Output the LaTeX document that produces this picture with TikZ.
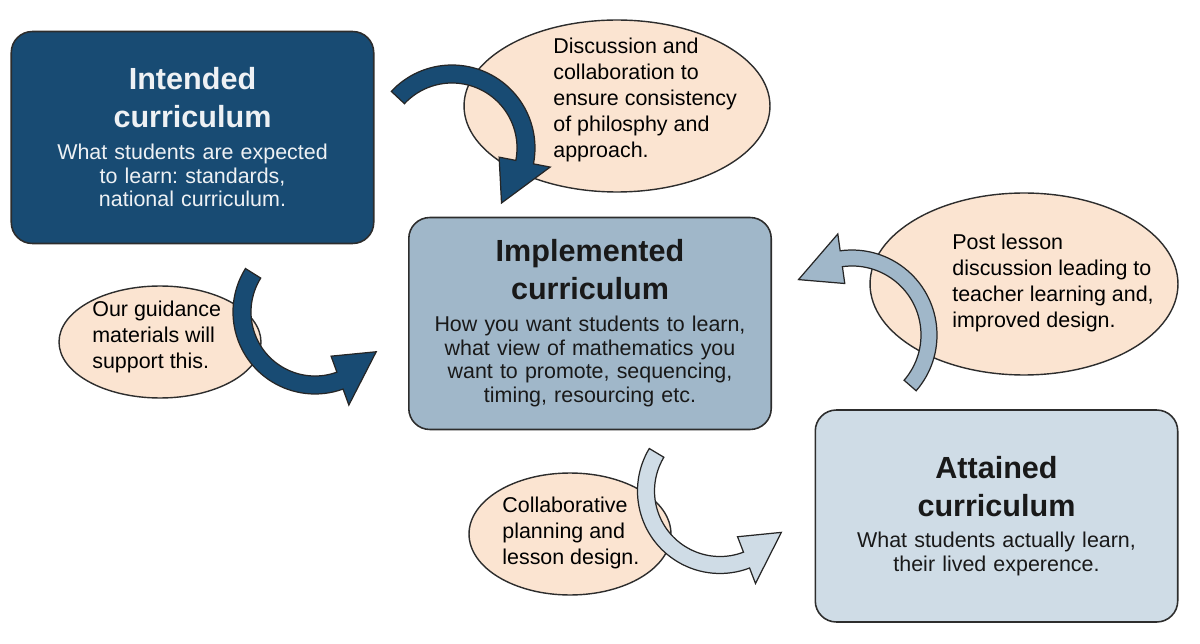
\documentclass[tikz,border=0pt]{standalone}
\usepackage{fontspec}
\setmainfont{Liberation Sans}
\usetikzlibrary{shapes.geometric}
\frenchspacing
\definecolor{boxNavy}{RGB}{24, 75, 115}
\definecolor{boxSteel}{RGB}{160, 183, 201}
\definecolor{boxPale}{RGB}{207, 220, 230}
\definecolor{bubblePeach}{RGB}{251, 228, 209}
\definecolor{edgeGrey}{RGB}{45, 45, 45}
\definecolor{textWhite}{RGB}{238, 241, 244}

% curved block arrow: centre, radius, half shaft, half head, start, head base, tip, fill
\newcommand{\bentarrow}[8]{%
  \filldraw[arrowline, fill=#8, shift={(#1)}]
    ({#5}:{#2+#3}) arc[start angle=#5, end angle=#6, radius=#2+#3]
    -- ({#6}:{#2+#4}) -- ({#7}:{#2}) -- ({#6}:{#2-#4})
    -- ({#6}:{#2-#3}) arc[start angle=#6, end angle=#5, radius=#2-#3] -- cycle;
}
\newcommand{\boxhead}[1]{{\fontsize{17.4}{21.5}\selectfont\bfseries #1\par}\vspace{4.3pt}}

\begin{document}
\begin{tikzpicture}[x=0.02cm, y=0.02cm,
    box/.style={draw=edgeGrey, line width=0.9pt, rounded corners=0.42cm,
      minimum width=7.25cm, minimum height=4.24cm, text width=6.9cm,
      align=center, inner sep=0pt, font=\fontsize{12.2}{13.6}\selectfont},
    bubble/.style={ellipse, draw=edgeGrey, line width=0.8pt, fill=bubblePeach, inner sep=0pt},
    bubbletext/.style={anchor=west, align=left, inner sep=0pt,
      font=\fontsize{12.2}{14.7}\selectfont},
    arrowline/.style={draw=black!85, line width=0.7pt, line join=miter}]
        \useasboundingbox (0,0) rectangle (1200,643);

        % Speech bubbles
        \node[bubble, minimum width=6.12cm, minimum height=3.44cm] (discuss) at (617,537) {};
        \node[bubble, minimum width=4.04cm, minimum height=2.24cm] (guidance) at (160,301) {};
        \node[bubble, minimum width=6.16cm, minimum height=3.64cm] (postlesson) at (1024,359) {};
        \node[bubble, minimum width=4.04cm, minimum height=2.44cm] (planning) at (570,109) {};

        \node[bubbletext] (discusstext) at (553,543) {Discussion and\\collaboration to\\ensure consistency\\of philosphy and\\approach.};
        \node[bubbletext] (guidancetext) at (92,306) {Our guidance\\materials will\\support this.};
        \node[bubbletext] (postlessontext) at (952,360) {Post lesson\\discussion leading to\\teacher learning and,\\improved design.};
        \node[bubbletext] (planningtext) at (502,110) {Collaborative\\planning and\\lesson design.};

        % Curriculum boxes
        \node[box, fill=boxNavy, text=textWhite] (intended) at (192.5,505.5)
          {\boxhead{Intended\\curriculum}What students are expected\\to learn: standards,\\national curriculum.};
        \node[box, fill=boxSteel, text=black!90] (implemented) at (590,319.5)
          {\boxhead{Implemented\\curriculum}How you want students to learn,\\what view of mathematics you\\want to promote, sequencing,\\timing, resourcing etc.};
        \node[box, fill=boxPale, text=black!90] (attained) at (996.5,127)
          {\boxhead{Attained\\curriculum}What students actually learn,\\their lived experence.};

        % Curved arrows
        \coordinate (arcTop) at (452,495);
        \coordinate (arcLeft) at (315,331);
        \coordinate (arcRight) at (852,308);
        \coordinate (arcBottom) at (720,152);
        \bentarrow{arcTop}{74}{9}{26}{137}{-11}{-48}{boxNavy}
        \bentarrow{arcLeft}{73}{9}{26}{148}{290}{327}{boxNavy}
        \bentarrow{arcRight}{77}{8}{25}{-41}{98}{134}{boxSteel}
        \bentarrow{arcBottom}{74}{8.5}{25}{149}{291}{326}{boxPale}
      \end{tikzpicture}
\end{document}
